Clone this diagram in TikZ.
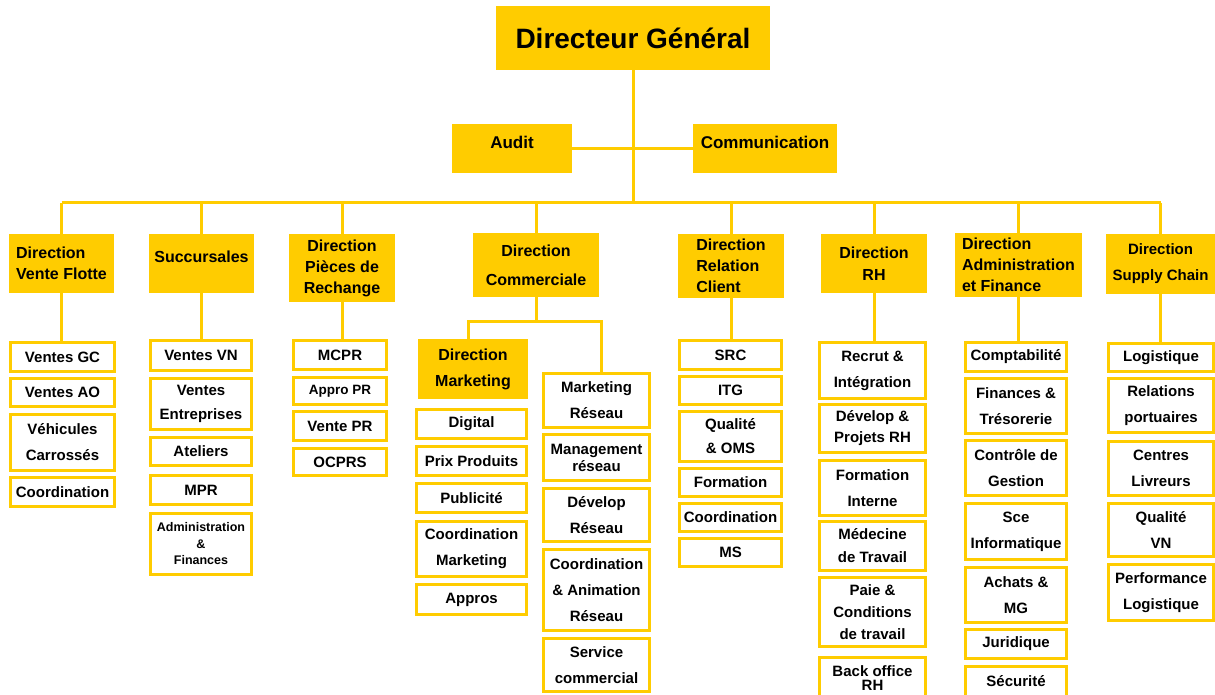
\documentclass[tikz,border=0pt]{standalone}
\usepackage{fontspec}
\setmainfont{Liberation Sans}
\definecolor{gold}{HTML}{FFCC00}
\newcommand\fsz[2]{\fontsize{#1}{#2}\selectfont\bfseries}

\begin{document}
\begin{tikzpicture}[x=1pt,y=-1pt]
\tikzset{
  bw/.style={minimum width=#1},
  bh/.style={minimum height=#1},
  dir/.style={fill=gold, draw=none, inner sep=0pt, align=center, font=\fsz{16}{21}},
  sub/.style={draw=gold, line width=3pt, fill=white, inner sep=0pt, align=center, font=\fsz{15}{26}},
  link/.style={draw=gold, line width=3pt},
}
\useasboundingbox (0,0) rectangle (1215,695);
\clip (0,0) rectangle (1215,695);

% top management
\node[dir, bw=274, bh=64, font=\fsz{28}{32}] (dg) at (633,38) {Directeur Général};
\node[dir, bw=120, bh=49, font=\fsz{17}{20}, text depth=13pt] (audit) at (512,148.5) {Audit};
\node[dir, bw=144, bh=49, font=\fsz{17}{20}, text depth=13pt] (comm) at (765,148.5) {Communication};

% directions
\node[dir, bw=105, bh=59, align=left] (dvf) at (61.5,263.5) {Direction\\Vente Flotte};
\node[dir, bw=105, bh=59, text depth=13pt] (suc) at (201.5,263.5) {Succursales};
\node[dir, bw=106, bh=68] (dpr) at (342,268) {Direction\\Pièces de\\Rechange};
\node[dir, bw=126, bh=64, font=\fsz{16}{29}] (dc) at (536,265) {Direction\\Commerciale};
\node[dir, bw=106, bh=64, align=left] (drc) at (731,266) {Direction\\Relation\\Client};
\node[dir, bw=106, bh=59, font=\fsz{16}{22}] (drh) at (874,263.5) {Direction\\RH};
\node[dir, bw=127, bh=64, align=left] (daf) at (1018.5,265) {Direction\\Administration\\et Finance};
\node[dir, bw=109, bh=60, font=\fsz{15}{26}] (dsc) at (1160.5,264) {Direction\\Supply Chain};

% Direction Vente Flotte
\node[sub, bw=104, bh=29] (vgc) at (62.5,357) {Ventes GC};
\node[sub, bw=104, bh=28] (vao) at (62.5,392.5) {Ventes AO};
\node[sub, bw=104, bh=56] (vca) at (62.5,442.5) {Véhicules\\Carrossés};
\node[sub, bw=104, bh=29] (vco) at (62.5,492) {Coordination};

% Succursales
\node[sub, bw=101, bh=30] (svn) at (201,355.5) {Ventes VN};
\node[sub, bw=101, bh=51, font=\fsz{15}{24}] (sve) at (201,404) {Ventes\\Entreprises};
\node[sub, bw=101, bh=28] (sat) at (201,451.5) {Ateliers};
\node[sub, bw=101, bh=29] (smp) at (201,490) {MPR};
\node[sub, bw=101, bh=61, font=\fsz{12.5}{16.5}] (saf) at (201,544) {Administration\\\&\\Finances};

% Direction Pieces de Rechange
\node[sub, bw=93, bh=29] (pmc) at (340,355) {MCPR};
\node[sub, bw=93, bh=27, font=\fsz{13.5}{16}] (pap) at (340,391) {Appro PR};
\node[sub, bw=93, bh=29] (pve) at (340,426) {Vente PR};
\node[sub, bw=93, bh=27] (poc) at (340,462) {OCPRS};

% Direction Commerciale
\node[dir, bw=110, bh=60, font=\fsz{16}{26}] (dm) at (473,369) {Direction\\Marketing};
\node[sub, bw=110, bh=29] (mdi) at (471.5,424) {Digital};
\node[sub, bw=110, bh=29] (mpp) at (471.5,461) {Prix Produits};
\node[sub, bw=110, bh=29] (mpu) at (471.5,498) {Publicité};
\node[sub, bw=110, bh=55] (mcm) at (471.5,549) {Coordination\\Marketing};
\node[sub, bw=110, bh=30] (map) at (471.5,599.5) {Appros};

\node[sub, bw=106, bh=54] (rmr) at (596.5,400.5) {Marketing\\Réseau};
\node[sub, bw=106, bh=46, font=\fsz{15}{17}] (rmg) at (596.5,457.5) {Management\\réseau};
\node[sub, bw=106, bh=53] (rdv) at (596.5,515) {Dévelop\\Réseau};
\node[sub, bw=106, bh=81] (rca) at (596.5,590) {Coordination\\\& Animation\\Réseau};
\node[sub, bw=106, bh=53] (rsc) at (596.5,665) {Service\\commercial};

% Direction Relation Client
\node[sub, bw=102, bh=29] (csr) at (730.5,355) {SRC};
\node[sub, bw=102, bh=28] (cit) at (730.5,390.5) {ITG};
\node[sub, bw=102, bh=50, font=\fsz{15}{24}] (cqo) at (730.5,436.5) {Qualité\\\& OMS};
\node[sub, bw=102, bh=28] (cfo) at (730.5,482.5) {Formation};
\node[sub, bw=102, bh=28] (cco) at (730.5,517.5) {Coordination};
\node[sub, bw=102, bh=28] (cms) at (730.5,552.5) {MS};

% Direction RH
\node[sub, bw=106, bh=56] (hre) at (872.5,370.5) {Recrut \&\\Intégration};
\node[sub, bw=106, bh=48, font=\fsz{15}{21}] (hdp) at (872.5,428.5) {Dévelop \&\\Projets RH};
\node[sub, bw=106, bh=55] (hfi) at (872.5,488) {Formation\\Interne};
\node[sub, bw=106, bh=49, font=\fsz{15}{23}] (hmt) at (872.5,546) {Médecine\\de Travail};
\node[sub, bw=106, bh=69, font=\fsz{15}{22}] (hpc) at (872.5,612) {Paie \&\\Conditions\\de travail};
\node[sub, bw=106, bh=41, font=\fsz{15}{14}] (hbo) at (872.5,678) {Back office\\RH};

% Direction Administration et Finance
\node[sub, bw=101, bh=29] (fco) at (1016,357) {Comptabilité};
\node[sub, bw=101, bh=55] (ftr) at (1016,406) {Finances \&\\Trésorerie};
\node[sub, bw=101, bh=55] (fcg) at (1016,468) {Contrôle de\\Gestion};
\node[sub, bw=101, bh=56] (fsi) at (1016,531.5) {Sce\\Informatique};
\node[sub, bw=101, bh=55] (fam) at (1016,595) {Achats \&\\MG};
\node[sub, bw=101, bh=29] (fju) at (1016,644) {Juridique};
\node[sub, bw=101, bh=30] (fse) at (1016,681) {Sécurité};

% Direction Supply Chain
\node[sub, bw=105, bh=28] (llo) at (1161,357.5) {Logistique};
\node[sub, bw=105, bh=54] (lrp) at (1161,405.5) {Relations\\portuaires};
\node[sub, bw=105, bh=54] (lcl) at (1161,468.5) {Centres\\Livreurs};
\node[sub, bw=105, bh=53] (lqv) at (1161,530) {Qualité\\VN};
\node[sub, bw=105, bh=56] (lpl) at (1161,592.5) {Performance\\Logistique};

% connectors
\coordinate (bus) at (633,203);
\coordinate (ml) at (468,321);
\coordinate (mr) at (601,321);
\draw[link] (dg.south) -- (bus);
\draw[link] (audit.east) -- (comm.west);
\draw[link] (dvf.north |- bus) -- (dsc.north |- bus);
\foreach \d in {dvf,suc,dpr,dc,drc,drh,daf,dsc}
  \draw[link] (\d.north) -- (\d.north |- bus);
\draw[link] (dvf.south) -- (dvf.south |- vgc.north);
\draw[link] (suc.south) -- (suc.south |- svn.north);
\draw[link] (dpr.south) -- (dpr.south |- pmc.north);
\draw[link] (drc.south) -- (drc.south |- csr.north);
\draw[link] (drh.south) -- (drh.south |- hre.north);
\draw[link] (daf.south) -- (daf.south |- fco.north);
\draw[link] (dsc.south) -- (dsc.south |- llo.north);
\draw[link] (dc.south) -- (dc.south |- ml);
\draw[link] (ml |- dm.north) -- (ml) -- (mr) -- (mr |- rmr.north);
\end{tikzpicture}
\end{document}
